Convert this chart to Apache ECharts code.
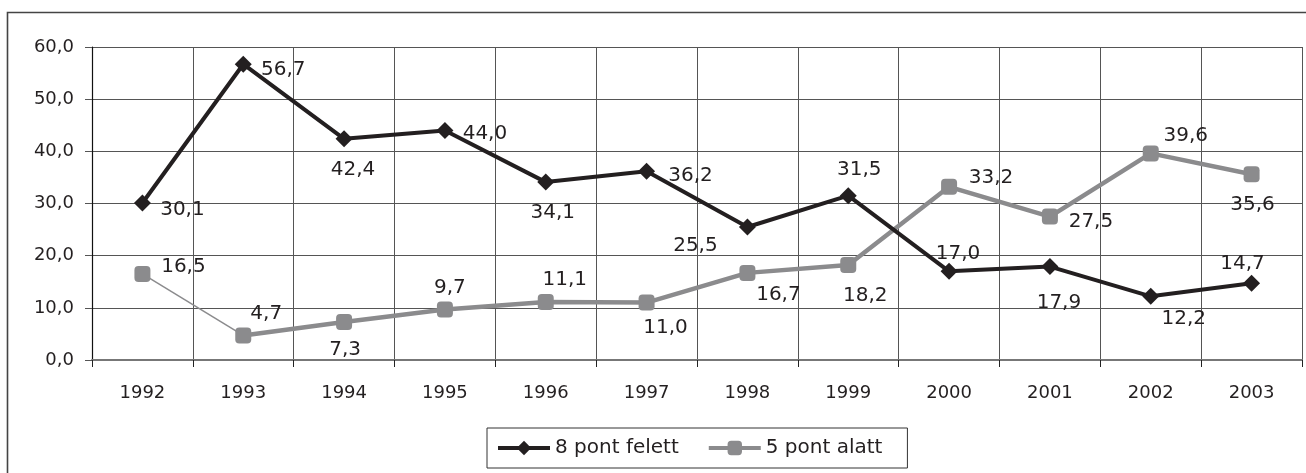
<!DOCTYPE html>
<html>
<head>
<meta charset="utf-8">
<script src="https://cdn.jsdelivr.net/npm/echarts@6/dist/echarts.min.js"></script>
<style>html,body{margin:0;padding:0;background:#fff;}#c{width:1306px;height:473px;}</style>
</head>
<body>
<div id="c"></div>
<script>
const categories = ['1992','1993','1994','1995','1996','1997','1998','1999','2000','2001','2002','2003'];
const above8 = [30.1, 56.7, 42.4, 44.0, 34.1, 36.2, 25.5, 31.5, 17.0, 17.9, 12.2, 14.7];
const below5 = [16.5, 4.7, 7.3, 9.7, 11.1, 11.0, 16.7, 18.2, 33.2, 27.5, 39.6, 35.6];
const yTicks = [0, 10, 20, 30, 40, 50, 60];
const seriesNames = ['8 pont felett', '5 pont alatt'];

// label placement offsets (style only)
const offBlack = [[40,7],[40,6],[9,31],[40,3],[7,31],[44,5],[-52,19],[11,-26],[9,-18],[9,36],[33,22],[-9,-20]];
const offGray  = [[41,-7],[23,-22],[1,28],[5,-22],[19,-22],[19,25],[31,22],[17,31],[42,-9],[41,5],[35,-18],[1,31]];

const fmt = v => v.toFixed(1).replace('.', ',');
const BLACK = '#231f20', GRAY = '#8b8b8d';
const FONT = 'DejaVu Sans, Verdana, sans-serif';

function withLabels(vals, offs, mask) {
  return vals.map((v, i) => {
    if (mask && !mask(i)) return '-';
    return {
      value: v,
      label: {show: true, position: 'inside', offset: offs[i], formatter: fmt(v)}
    };
  });
}

const labelStyle = {color: BLACK, fontSize: 20, fontFamily: FONT, align: 'center', verticalAlign: 'middle'};

const chart = echarts.init(document.getElementById('c'), null, {renderer: 'canvas'});
chart.setOption({
  animation: false,
  backgroundColor: '#fff',
  textStyle: {fontFamily: FONT},
  graphic: [{
    type: 'rect', silent: true, z: -1,
    shape: {x: 7.5, y: 12.5, width: 1310, height: 480},
    style: {fill: 'none', stroke: '#444', lineWidth: 1.6}
  }],
  grid: {left: 92, right: 4, top: 47, bottom: 113, containLabel: false},
  legend: {
    data: seriesNames,
    left: 487, top: 428,
    padding: [10, 25, 10, 9],
    borderColor: '#333', borderWidth: 1,
    itemWidth: 52, itemHeight: 18, itemGap: 28,
    lineStyle: {width: 4},
    textStyle: {fontSize: 20, color: BLACK, fontFamily: FONT}
  },
  xAxis: {
    type: 'category', data: categories, boundaryGap: true,
    axisLine: {show: true, lineStyle: {color: '#777', width: 2}},
    axisTick: {show: true, alignWithLabel: false, length: 7, lineStyle: {color: '#222', width: 1}},
    axisLabel: {color: BLACK, fontSize: 18, margin: 24, fontFamily: FONT},
    splitLine: {show: true, lineStyle: {color: '#555', width: 1}}
  },
  yAxis: {
    type: 'value', min: yTicks[0], max: yTicks[yTicks.length-1], interval: 10,
    axisLine: {show: true, lineStyle: {color: '#111', width: 1.2}},
    axisTick: {show: true, length: 7, lineStyle: {color: '#555'}},
    axisLabel: {color: BLACK, fontSize: 18, margin: 18, formatter: v => fmt(v), fontFamily: FONT},
    splitLine: {show: true, lineStyle: {color: '#555', width: 1}}
  },
  series: [
    {
      name: seriesNames[0], type: 'line', data: withLabels(above8, offBlack),
      symbol: 'diamond', symbolSize: 17,
      itemStyle: {color: BLACK},
      lineStyle: {color: BLACK, width: 4},
      label: labelStyle,
      z: 4
    },
    {
      name: seriesNames[1], type: 'line', data: withLabels(below5, offGray, i => i >= 1),
      symbol: 'roundRect', symbolSize: 16, connectNulls: false,
      itemStyle: {color: GRAY},
      lineStyle: {color: GRAY, width: 4.5},
      label: labelStyle,
      z: 3
    },
    {
      name: 'thin', type: 'line', data: withLabels(below5, offGray, i => i <= 1).map((d, i) => i === 1 ? {value: below5[1], symbol: 'none', label: {show: false}} : d),
      symbol: 'roundRect', symbolSize: 16,
      itemStyle: {color: GRAY},
      lineStyle: {color: GRAY, width: 1.5},
      label: labelStyle,
      z: 2
    }
  ]
});
</script>
</body>
</html>
